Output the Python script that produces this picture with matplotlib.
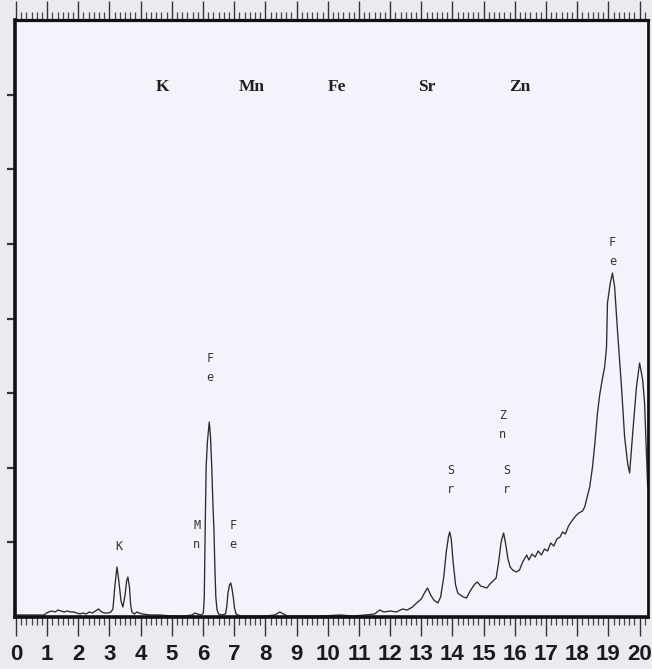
import matplotlib
matplotlib.use("Agg")
import matplotlib.pyplot as plt
from matplotlib.ticker import MultipleLocator, FixedLocator, NullFormatter
import numpy as np

# spectrum: energy (keV) vs. counts (arbitrary units)
energy = [
    0.00, 0.30, 0.60, 0.90, 0.98, 1.05, 1.15, 1.25, 1.35, 1.45, 1.55, 1.65, 1.75, 1.85, 1.95,
    2.05, 2.15, 2.25, 2.35, 2.45, 2.55, 2.65, 2.75, 2.85, 2.95, 3.05, 3.11, 3.17, 3.24, 3.30,
    3.37, 3.43, 3.50, 3.55, 3.59, 3.64, 3.68, 3.72, 3.80, 3.88, 3.95, 4.05, 4.30, 4.60, 5.00,
    5.40, 5.65, 5.74, 5.82, 5.95, 6.01, 6.04, 6.07, 6.10, 6.14, 6.20, 6.24, 6.28, 6.32, 6.35,
    6.38, 6.41, 6.45, 6.50, 6.60, 6.72, 6.76, 6.80, 6.85, 6.89, 6.93, 6.97, 7.01, 7.06, 7.20,
    7.60, 8.00, 8.30, 8.46, 8.58, 8.70, 9.20, 9.80, 10.40, 10.80, 11.20, 11.50, 11.67, 11.80,
    12.00, 12.20, 12.40, 12.55, 12.72, 12.85, 13.00, 13.10, 13.20, 13.30, 13.40, 13.53, 13.62,
    13.72, 13.80, 13.87, 13.91, 13.96, 14.02, 14.10, 14.17, 14.25, 14.35, 14.45, 14.55, 14.65,
    14.72, 14.80, 14.90, 15.00, 15.10, 15.20, 15.30, 15.40, 15.48, 15.56, 15.64, 15.70, 15.78,
    15.85, 15.93, 16.05, 16.15, 16.25, 16.38, 16.45, 16.55, 16.65, 16.75, 16.85, 16.95, 17.05,
    17.15, 17.25, 17.35, 17.45, 17.53, 17.62, 17.72, 17.85, 17.95, 18.05, 18.17, 18.24, 18.32,
    18.40, 18.49, 18.57, 18.65, 18.72, 18.80, 18.88, 18.94, 18.97, 19.06, 19.13, 19.20, 19.29,
    19.42, 19.52, 19.62, 19.68, 19.78, 19.90, 20.00, 20.10, 20.16, 20.22, 20.26,
]
counts = [
    2, 2, 2, 2, 4, 5, 6, 5, 7, 6, 5, 6, 5, 5, 4,
    3, 4, 3, 5, 4, 6, 8, 5, 4, 4, 5, 8, 30, 50, 36,
    16, 10, 22, 36, 40, 30, 12, 5, 3, 5, 4, 3, 2, 2, 1,
    1, 2, 4, 3, 2, 4, 20, 90, 150, 175, 195, 180, 150, 110, 87,
    50, 20, 7, 3, 2, 3, 10, 24, 32, 34, 28, 20, 9, 3, 1,
    1, 1, 2, 5, 3, 1, 1, 1, 2, 1, 2, 3, 7, 5,
    6, 5, 8, 7, 10, 14, 18, 24, 29, 22, 17, 14, 20,
    40, 65, 80, 85, 78, 55, 32, 24, 22, 20, 19, 25, 30,
    33, 35, 31, 30, 29, 33, 36, 39, 55, 75, 84, 74, 58,
    50, 47, 45, 47, 55, 62, 57, 63, 60, 66, 62, 68, 66,
    74, 71, 78, 80, 85, 83, 91, 97, 101, 104, 106, 110, 120,
    130, 150, 175, 204, 222, 237, 250, 270, 314, 334, 344, 330, 287,
    230, 180, 153, 144, 184, 230, 254, 237, 214, 164, 130,
]

# element names printed across the top of the sheet
header_labels = ["K", "Mn", "Fe", "Sr", "Zn"]
header_x = [4.71, 7.56, 10.29, 13.17, 16.15]

# peak annotations printed by the instrument (letters stacked vertically)
peak_labels = ["K", "M\nn", "F\ne", "F\ne", "S\nr", "Z\nn", "S\nr", "F\ne"]
peak_x = [3.30, 5.80, 6.22, 6.96, 13.94, 15.61, 15.74, 19.13]
peak_y = [71, 82, 249, 82, 137, 192, 137, 365]

xtick_vals = list(range(0, 21))
ymax = 597
ytick_vals = [ymax * k / 8 for k in range(1, 8)]

fig = plt.figure(figsize=(6.52, 6.69), dpi=100, facecolor="#ECEAF1")
ax = fig.add_axes([15 / 652, 52 / 669, 633 / 652, 597 / 669], facecolor="#F4F2FB")

ax.plot(energy, counts, color="#2b2b2b", lw=0.95)

ax.set_xlim(-0.03, 20.27)
ax.set_ylim(0, ymax)

# ruler-style ticks: long at integers, short minor ticks between
ax.xaxis.set_major_locator(FixedLocator(xtick_vals))
ax.xaxis.set_minor_locator(MultipleLocator(1 / 6))
ax.set_xticklabels([str(v) for v in xtick_vals],
                   family=["Liberation Sans Narrow", "Liberation Sans"],
                   fontsize=16, fontweight="bold", color="#1a1a1a")
ax.tick_params(axis="x", which="major", direction="out", length=13.5, width=1.0,
               pad=6, top=True, bottom=True, color="#333333")
ax.tick_params(axis="x", which="minor", direction="out", length=5.5, width=0.9,
               top=True, bottom=True, color="#444444")

ax.yaxis.set_major_locator(FixedLocator(ytick_vals))
ax.yaxis.set_major_formatter(NullFormatter())
ax.tick_params(axis="y", which="major", direction="out", length=6, width=1.6,
               left=True, right=False, color="#333333")

for side, lw in [("left", 2.6), ("bottom", 2.6), ("top", 2.3), ("right", 2.0)]:
    ax.spines[side].set_linewidth(lw)
    ax.spines[side].set_color("#111111")

for name, x in zip(header_labels, header_x):
    ax.text(x, 530, name, ha="center", va="center", fontsize=12.5, fontweight="bold",
            family=["Liberation Serif", "DejaVu Serif"], color="#1e1e1e")

for lab, x, y in zip(peak_labels, peak_x, peak_y):
    ax.text(x, y, lab, ha="center", va="center", fontsize=8.5, linespacing=1.65,
            family=["DejaVu Sans Mono"], color="#333333")

fig.savefig("out.png", dpi=100, facecolor=fig.get_facecolor())
